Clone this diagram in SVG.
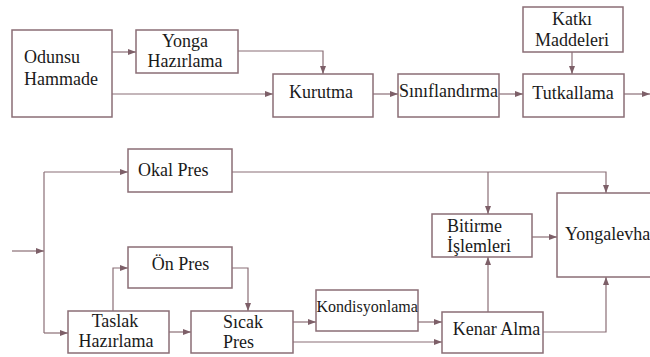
<svg xmlns="http://www.w3.org/2000/svg" width="650" height="357" viewBox="0 0 650 357">
<defs>
<marker id="ah" viewBox="0 0 8 6" refX="8" refY="3" markerWidth="8" markerHeight="6" markerUnits="userSpaceOnUse" orient="auto">
<path d="M0,0 L8,3 L0,6 z" fill="#7d5f68"/>
</marker>
<style>
.box{fill:#fff;stroke:#8a6e76;stroke-width:1.5}
.ln{fill:none;stroke:#8a6e76;stroke-width:1.2}
.ar{fill:none;stroke:#8a6e76;stroke-width:1.2;marker-end:url(#ah)}
.t text{font-size:18px;fill:#1a1a1a}
.c{text-anchor:middle}
.t .s{font-size:16px}
</style>
</defs>
<rect width="650" height="357" fill="#fff"/>
<g id="connectors">
<path class="ar" d="M112,52 H136"/>
<path class="ar" d="M238,51 H323 V74"/>
<path class="ar" d="M112,94 H273"/>
<path class="ar" d="M373,94 H398"/>
<path class="ar" d="M499,94 H523"/>
<path class="ar" d="M572,52 V74"/>
<path class="ar" d="M624,94 H650"/>
<path class="ar" d="M12,251 H44"/>
<path class="ln" d="M44,172 V333"/>
<path class="ar" d="M44,172 H128"/>
<path class="ar" d="M44,333 H68"/>
<path class="ar" d="M113,311 V268 H128"/>
<path class="ar" d="M232,268 H248 V311"/>
<path class="ar" d="M169,332 H191"/>
<path class="ar" d="M293,322 H316"/>
<path class="ar" d="M293,342 H442"/>
<path class="ar" d="M418,322 H442"/>
<path class="ar" d="M232,172 H606 V193"/>
<path class="ar" d="M488,172 V214"/>
<path class="ar" d="M488,312 V257"/>
<path class="ar" d="M532,237 H557"/>
<path class="ar" d="M543,332 H606 V277"/>
</g>
<g class="t" font-family="'Liberation Serif', 'DejaVu Serif', serif">
<g id="odunsu"><rect class="box" x="12" y="30" width="100" height="87"/><text x="24" y="63">Odunsu</text><text x="24" y="85">Hammade</text></g>
<g id="yonga"><rect class="box" x="136" y="30" width="102" height="43"/><text class="c" x="185" y="47">Yonga</text><text class="c" x="185" y="67">Hazırlama</text></g>
<g id="kurutma"><rect class="box" x="273" y="74" width="100" height="43"/><text class="c" x="321" y="98">Kurutma</text></g>
<g id="siniflandirma"><rect class="box" x="398" y="74" width="101" height="43"/><text class="c" x="448.5" y="97">Sınıflandırma</text></g>
<g id="katki"><rect class="box" x="523" y="7" width="100" height="45"/><text class="c" x="572" y="25">Katkı</text><text class="c" x="572" y="46">Maddeleri</text></g>
<g id="tutkallama"><rect class="box" x="523" y="74" width="101" height="43"/><text class="c" x="573" y="99">Tutkallama</text></g>
<g id="okal"><rect class="box" x="128" y="149" width="104" height="43"/><text x="138" y="176">Okal Pres</text></g>
<g id="onpres"><rect class="box" x="128" y="247" width="104" height="41"/><text class="c" x="180.5" y="270">Ön Pres</text></g>
<g id="taslak"><rect class="box" x="68" y="311" width="101" height="42"/><text class="c" x="115" y="327">Taslak</text><text class="c" x="116" y="347">Hazırlama</text></g>
<g id="sicak"><rect class="box" x="191" y="311" width="102" height="42"/><text x="223" y="328">Sıcak</text><text x="223" y="348">Pres</text></g>
<g id="kondisyonlama"><rect class="box" x="316" y="290" width="102" height="41"/><text class="s" x="316.5" y="312">Kondisyonlama</text></g>
<g id="kenar"><rect class="box" x="442" y="312" width="101" height="41"/><text class="c" x="496.5" y="335">Kenar Alma</text></g>
<g id="bitirme"><rect class="box" x="432" y="214" width="100" height="43"/><text x="447" y="232">Bitirme</text><text x="447" y="252">İşlemleri</text></g>
<g id="yongalevha"><rect class="box" x="557" y="193" width="100" height="84"/><text x="565" y="240">Yongalevha</text></g>
</g>
</svg>
